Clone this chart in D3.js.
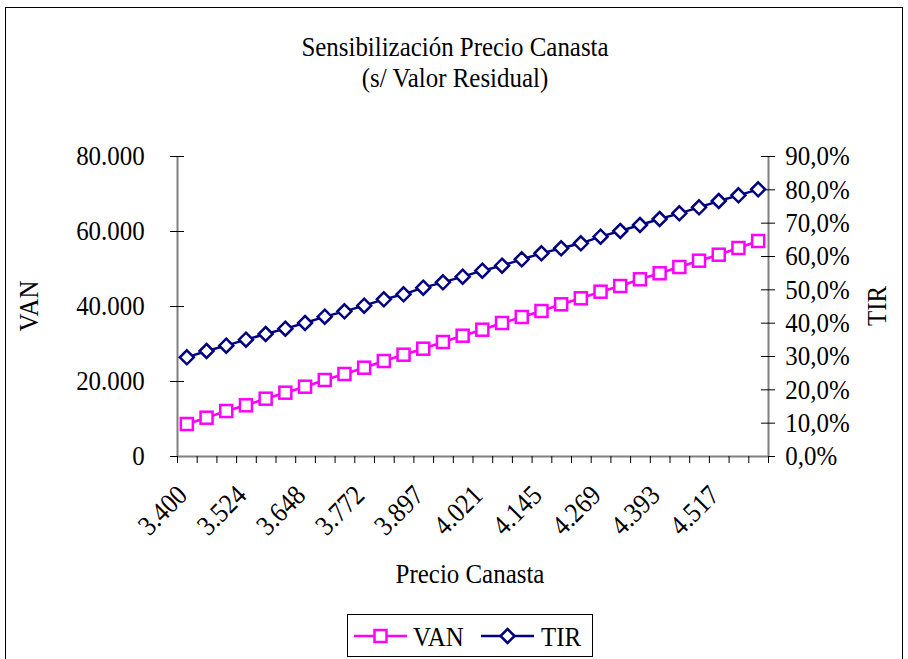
<!DOCTYPE html>
<html>
<head>
<meta charset="utf-8">
<script src="https://cdn.jsdelivr.net/npm/d3@7"></script>
<style>
  html, body { margin: 0; padding: 0; background: #fff; }
  svg text { font-family: "Liberation Serif", "Times New Roman", serif; fill: #000; }
</style>
</head>
<body>
<svg id="chart" width="908" height="659"></svg>
<script>
// Precio de la canasta (30 escenarios)
const precios = [3400, 3441, 3483, 3524, 3566, 3607, 3648, 3690, 3731, 3772,
                 3814, 3855, 3897, 3938, 3979, 4021, 4062, 4103, 4145, 4186,
                 4228, 4269, 4310, 4352, 4393, 4434, 4476, 4517, 4559, 4600];

// Valor actual neto
const van = [8533, 10213, 12000, 13520, 15280, 16880, 18480, 20267, 21867, 23547,
             25333, 27013, 28613, 30400, 32080, 33680, 35467, 37067, 38667, 40453,
             42053, 43813, 45333, 47120, 48720, 50400, 52080, 53680, 55467, 57333];

// Tasa interna de retorno
const tir = [0.296, 0.315, 0.331, 0.349, 0.366, 0.382, 0.399, 0.418, 0.434, 0.451,
             0.470, 0.485, 0.505, 0.521, 0.538, 0.556, 0.571, 0.590, 0.608, 0.623,
             0.638, 0.658, 0.675, 0.693, 0.711, 0.728, 0.746, 0.765, 0.782, 0.800];

const vanTicks = [0, 20000, 40000, 60000, 80000];
const tirTicks = [0, 0.1, 0.2, 0.3, 0.4, 0.5, 0.6, 0.7, 0.8, 0.9];

const esLocale = d3.formatLocale({ decimal: ",", thousands: ".", grouping: [3], currency: ["$", ""] });
const fmtMiles = esLocale.format(",.0f");
const fmtPct = esLocale.format(".1%");

const svg = d3.select("#chart");
const FONT = 28;      // font size
const SX = 0.89;      // narrow horizontal glyph scale
const VAN_COLOR = "#ff00ff";
const TIR_COLOR = "#000080";

// places a text at (px,py), optionally rotated, with the narrow glyph scale
function label(parent, px, py, str, anchor = "start", rot = 0) {
  return parent.append("text")
    .attr("transform", `translate(${px},${py}) rotate(${rot}) scale(${SX},1)`)
    .attr("text-anchor", anchor)
    .style("font-size", FONT + "px")
    .text(str);
}

// chart frame
svg.append("rect").attr("x", 5.5).attr("y", 7.5).attr("width", 897).attr("height", 700)
  .attr("fill", "none").attr("stroke", "#000").attr("stroke-width", 1);

// titles
label(svg, 455, 56, "Sensibilización Precio Canasta", "middle");
label(svg, 455, 87, "(s/ Valor Residual)", "middle");

const plotL = 177, plotR = 768, plotT = 156, plotB = 456;

const x = d3.scaleBand().domain(d3.range(precios.length)).range([plotL, plotR]).padding(0);
const xEdges = d3.scaleLinear().domain([0, precios.length]).range([plotL, plotR]);
const yL = d3.scaleLinear().domain([0, 80000]).range([plotB, plotT]);
const yR = d3.scaleLinear().domain([0, 0.9]).range([plotB, plotT]);
const cx = i => x(i) + x.bandwidth() / 2;

// left axis
const gL = svg.append("g").attr("transform", `translate(${plotL},0)`)
  .call(d3.axisLeft(yL).tickValues(vanTicks).tickFormat(fmtMiles).tickSizeOuter(0).tickPadding(27 / SX));
gL.select(".domain").attr("stroke", "#808080").attr("stroke-width", 2);
gL.selectAll(".tick line").attr("x1", -7).attr("x2", 7).attr("stroke", "#000");
gL.selectAll(".tick text").style("font-size", FONT + "px").attr("font-family", null)
  .attr("transform", `scale(${SX},1)`);

// right axis
const gR = svg.append("g").attr("transform", `translate(${plotR},0)`)
  .call(d3.axisRight(yR).tickValues(tirTicks).tickFormat(fmtPct).tickSizeOuter(0).tickPadding(12 / SX));
gR.select(".domain").attr("stroke", "#808080").attr("stroke-width", 2);
gR.selectAll(".tick line").attr("x1", -7).attr("x2", 7).attr("stroke", "#000");
gR.selectAll(".tick text").style("font-size", FONT + "px").attr("font-family", null)
  .attr("transform", `scale(${SX},1)`);

// bottom axis: ticks between categories
const gB = svg.append("g").attr("transform", `translate(0,${plotB})`)
  .call(d3.axisBottom(xEdges).tickValues(d3.range(0, precios.length + 1)).tickFormat("").tickSize(7).tickSizeOuter(0));
gB.select(".domain").attr("stroke", "#808080").attr("stroke-width", 2);
gB.selectAll(".tick line").attr("stroke", "#000");

// rotated category labels, every third price
const gX = svg.append("g");
precios.forEach((p, i) => {
  if (i % 3 === 0) label(gX, cx(i) + 2, plotB + 41, fmtMiles(p), "end", -45);
});

// axis titles
label(svg, 38, (plotT + plotB) / 2, "VAN", "middle", -90);
label(svg, 886, (plotT + plotB) / 2, "TIR", "middle", -90);
label(svg, 470, 583, "Precio Canasta", "middle");

// series lines
const lineVan = d3.line().x((d, i) => cx(i)).y(d => yL(d));
const lineTir = d3.line().x((d, i) => cx(i)).y(d => yR(d));

svg.append("path").datum(van).attr("d", lineVan)
  .attr("fill", "none").attr("stroke", VAN_COLOR).attr("stroke-width", 2.5);
svg.append("path").datum(tir).attr("d", lineTir)
  .attr("fill", "none").attr("stroke", TIR_COLOR).attr("stroke-width", 2.5);

// markers
const SQ = 12;
svg.append("g").selectAll("rect").data(van).join("rect")
  .attr("x", (d, i) => cx(i) - SQ / 2).attr("y", d => yL(d) - SQ / 2)
  .attr("width", SQ).attr("height", SQ)
  .attr("fill", "#fff").attr("stroke", VAN_COLOR).attr("stroke-width", 2.5);

const DM = 7;
const diamond = (px, py) => `M${px},${py - DM}L${px + DM},${py}L${px},${py + DM}L${px - DM},${py}Z`;
svg.append("g").selectAll("path").data(tir).join("path")
  .attr("d", (d, i) => diamond(cx(i), yR(d)))
  .attr("fill", "#fff").attr("stroke", TIR_COLOR).attr("stroke-width", 2.5);

// legend
const lg = svg.append("g");
lg.append("rect").attr("x", 347.5).attr("y", 614.5).attr("width", 245).attr("height", 42)
  .attr("fill", "#fff").attr("stroke", "#000").attr("stroke-width", 1);
const ly = 636;
lg.append("line").attr("x1", 354).attr("x2", 407).attr("y1", ly).attr("y2", ly)
  .attr("stroke", VAN_COLOR).attr("stroke-width", 2.5);
lg.append("rect").attr("x", 380.5 - SQ / 2).attr("y", ly - SQ / 2).attr("width", SQ).attr("height", SQ)
  .attr("fill", "#fff").attr("stroke", VAN_COLOR).attr("stroke-width", 2.5);
label(lg, 413, ly + 10, "VAN");
lg.append("line").attr("x1", 481).attr("x2", 534).attr("y1", ly).attr("y2", ly)
  .attr("stroke", TIR_COLOR).attr("stroke-width", 2.5);
lg.append("path").attr("d", diamond(507.5, ly))
  .attr("fill", "#fff").attr("stroke", TIR_COLOR).attr("stroke-width", 2.5);
label(lg, 541, ly + 10, "TIR");
</script>
</body>
</html>
